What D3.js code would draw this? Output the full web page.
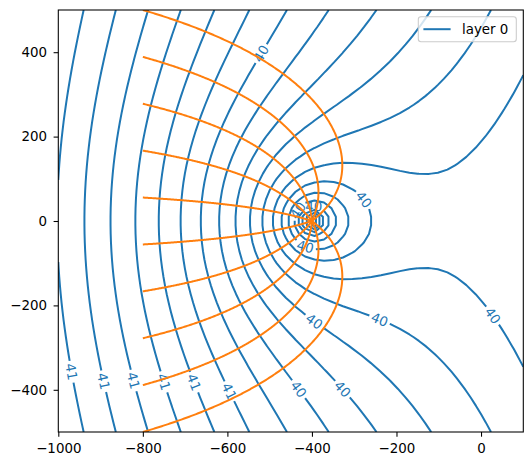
<!DOCTYPE html>
<html><head><meta charset="utf-8">
<script src="https://cdn.jsdelivr.net/npm/d3@7"></script>
<style>
body{margin:0;background:#fff;}
text{font-family:"DejaVu Sans",sans-serif;}
</style>
</head><body>
<svg id="chart" width="532" height="466"></svg>
<script>
// ---------------- data ----------------
const xTicks = [-1000, -800, -600, -400, -200, 0];
const yTicks = [-400, -200, 0, 200, 400];
const plotWindow = [-1000, 100, -500, 500];      // x1, x2, y1, y2
const gridCount = [50, 50];                        // contour grid points
const wellXY = [-400, 0];                          // extraction well
const stagnationDist = 313.7;                      // well -> stagnation point distance
const headPerUnit = 0.001;                         // head change per unit of discharge potential
const headOffset = 37.9892;                        // reference head
const headLevels = [39.1, 39.2, 39.3, 39.4, 39.5, 39.6, 39.7, 39.8, 39.9, 40.0,
                    40.1, 40.2, 40.3, 40.4, 40.5, 40.6, 40.7, 40.8, 40.9, 41.0];
const traceStartX = [-800, -800, -800, -800, -800, -800, -800, -800, -800, -800];
const traceStartY = [-500, -388.9, -277.8, -166.7, -55.6, 55.6, 166.7, 277.8, 388.9, 500];
const labelAnchorX = [-967.6, -886.4, -817.7, -749, -675.7, -592.8, -430.9, -325.3, -395, -238.7, 35, -521.3, -274, -416, -396.3, -435.6];
const labelAnchorY = [-357, -378.5, -376.8, -380.8, -380.8, -402.2, -398, -396.5, -238.7, -230.6, -218.8, 397.4, 54, -61, 37.9, 26];
const legendLabels = ["layer 0"];

// ---------------- layout ----------------
const C0 = "#1f77b4", C1 = "#ff7f0e";
const FS = 13.4;
const svg = d3.select("#chart");
const x = d3.scaleLinear().domain([plotWindow[0], plotWindow[1]]).range([58.3, 523.3]);
const y = d3.scaleLinear().domain([plotWindow[2], plotWindow[3]]).range([432, 10]);
const [px0, px1] = x.range(), [py0, py1] = [y.range()[1], y.range()[0]];

svg.append("rect").attr("width", 532).attr("height", 466).attr("fill", "#fff");
svg.append("defs").append("clipPath").attr("id", "clip")
  .append("rect").attr("x", px0).attr("y", py0).attr("width", px1 - px0).attr("height", py1 - py0);

// ---------------- head field on grid ----------------
function head(xx, yy) {
  const r = Math.hypot(xx - wellXY[0], yy - wellXY[1]);
  return headOffset + headPerUnit * (-xx + stagnationDist * Math.log(r));
}
const nx = gridCount[0], ny = gridCount[1];
const xs = d3.range(nx).map(i => plotWindow[0] + i * (plotWindow[1] - plotWindow[0]) / (nx - 1));
const ys = d3.range(ny).map(j => plotWindow[2] + j * (plotWindow[3] - plotWindow[2]) / (ny - 1));
const V = ys.map(yy => xs.map(xx => head(xx, yy)));

// marching squares -> polylines
function isolines(L) {
  const pts = new Map();
  const segs = [];
  function ep(key, xa, ya, va, xb, yb, vb) {
    if (!pts.has(key)) {
      const t = (L - va) / (vb - va);
      pts.set(key, [xa + t * (xb - xa), ya + t * (yb - ya)]);
    }
    return key;
  }
  for (let j = 0; j < ny - 1; j++) for (let i = 0; i < nx - 1; i++) {
    const va = V[j][i], vb = V[j][i + 1], vc = V[j + 1][i + 1], vd = V[j + 1][i];
    const A = va >= L, B = vb >= L, Cc = vc >= L, D = vd >= L;
    const e = [null, null, null, null];
    if (A !== B) e[0] = ep("h" + i + "_" + j, xs[i], ys[j], va, xs[i + 1], ys[j], vb);
    if (B !== Cc) e[1] = ep("v" + (i + 1) + "_" + j, xs[i + 1], ys[j], vb, xs[i + 1], ys[j + 1], vc);
    if (D !== Cc) e[2] = ep("h" + i + "_" + (j + 1), xs[i], ys[j + 1], vd, xs[i + 1], ys[j + 1], vc);
    if (A !== D) e[3] = ep("v" + i + "_" + j, xs[i], ys[j], va, xs[i], ys[j + 1], vd);
    const c = e.filter(k => k !== null);
    if (c.length === 2) segs.push([c[0], c[1]]);
    else if (c.length === 4) {
      const center = (va + vb + vc + vd) / 4 >= L;
      if (center === A) { segs.push([e[0], e[1]]); segs.push([e[2], e[3]]); }
      else { segs.push([e[0], e[3]]); segs.push([e[1], e[2]]); }
    }
  }
  const byKey = new Map();
  segs.forEach((s, k) => s.forEach(key => { if (!byKey.has(key)) byKey.set(key, []); byKey.get(key).push(k); }));
  const used = new Array(segs.length).fill(false);
  const lines = [];
  for (let k = 0; k < segs.length; k++) {
    if (used[k]) continue;
    used[k] = true;
    const chain = [segs[k][0], segs[k][1]];
    const grow = (forward) => {
      while (true) {
        const endKey = forward ? chain[chain.length - 1] : chain[0];
        const nb = (byKey.get(endKey) || []).find(m => !used[m]);
        if (nb === undefined) break;
        used[nb] = true;
        const other = segs[nb][0] === endKey ? segs[nb][1] : segs[nb][0];
        if (forward) chain.push(other); else chain.unshift(other);
        if (chain[0] === chain[chain.length - 1]) break;
      }
    };
    grow(true);
    if (chain[0] !== chain[chain.length - 1]) grow(false);
    lines.push({ closed: chain[0] === chain[chain.length - 1], pts: chain.map(key => pts.get(key)) });
  }
  return lines;
}

// pieces in screen coordinates
let pieces = [];
headLevels.forEach(L => {
  isolines(L).forEach(ln => {
    pieces.push({ level: L, closed: ln.closed, pts: ln.pts.map(p => [x(p[0]), y(p[1])]) });
  });
});

function cumLen(pts) {
  const c = [0];
  for (let k = 1; k < pts.length; k++) c.push(c[k - 1] + Math.hypot(pts[k][0] - pts[k - 1][0], pts[k][1] - pts[k - 1][1]));
  return c;
}
function pointAt(pts, cum, s) {
  s = Math.max(0, Math.min(cum[cum.length - 1], s));
  let k = 0;
  while (k < cum.length - 2 && cum[k + 1] < s) k++;
  const segL = cum[k + 1] - cum[k];
  const t = segL > 0 ? (s - cum[k]) / segL : 0;
  return [pts[k][0] + t * (pts[k + 1][0] - pts[k][0]), pts[k][1] + t * (pts[k + 1][1] - pts[k][1])];
}
function subPath(pts, cum, s1, s2) {
  const out = [pointAt(pts, cum, s1)];
  for (let k = 0; k < pts.length; k++) if (cum[k] > s1 && cum[k] < s2) out.push(pts[k]);
  out.push(pointAt(pts, cum, s2));
  return out;
}

// ---------------- contour labels (inline) ----------------
const gLab = svg.append("g");
labelAnchorX.forEach((ax, li) => {
  const P = [x(ax), y(labelAnchorY[li])];
  let best = null;
  pieces.forEach((pc, pi) => {
    const cum = cumLen(pc.pts);
    for (let k = 0; k < pc.pts.length - 1; k++) {
      const a = pc.pts[k], b = pc.pts[k + 1];
      const dx = b[0] - a[0], dy = b[1] - a[1];
      const l2 = dx * dx + dy * dy;
      let t = l2 > 0 ? ((P[0] - a[0]) * dx + (P[1] - a[1]) * dy) / l2 : 0;
      t = Math.max(0, Math.min(1, t));
      const q = [a[0] + t * dx, a[1] + t * dy];
      const d = Math.hypot(q[0] - P[0], q[1] - P[1]);
      if (!best || d < best.d) best = { d, pi, s: cum[k] + t * Math.sqrt(l2), q };
    }
  });
  if (!best) return;
  const pc = pieces[best.pi];
  let pts = pc.pts, cum = cumLen(pts), s0 = best.s;
  const Ltot = cum[cum.length - 1];
  let p1, p2;
  if (pc.closed) {
    const dbl = pts.concat(pts.slice(1));
    const cd = cumLen(dbl);
    p1 = pointAt(dbl, cd, s0 - 7 + Ltot);
    p2 = pointAt(dbl, cd, s0 + 7 + Ltot);
  } else {
    p1 = pointAt(pts, cum, s0 - 7);
    p2 = pointAt(pts, cum, s0 + 7);
  }
  let ang = Math.atan2(p2[1] - p1[1], p2[0] - p1[0]) * 180 / Math.PI;
  if (ang > 90) ang -= 180;
  if (ang <= -90) ang += 180;
  const txt = gLab.append("text")
    .attr("transform", `translate(${best.q[0]},${best.q[1]}) rotate(${ang})`)
    .attr("text-anchor", "middle").attr("dy", "0.36em")
    .attr("font-size", FS).attr("fill", C0)
    .text(pc.level.toFixed(0));
  const w = txt.node().getComputedTextLength() + 5;
  const newPieces = [];
  if (pc.closed) {
    const dbl = pts.concat(pts.slice(1));
    const cd = cumLen(dbl);
    newPieces.push({ level: pc.level, closed: false, pts: subPath(dbl, cd, s0 + w / 2, s0 - w / 2 + Ltot) });
  } else {
    if (s0 - w / 2 > 0) newPieces.push({ level: pc.level, closed: false, pts: subPath(pts, cum, 0, s0 - w / 2) });
    if (s0 + w / 2 < Ltot) newPieces.push({ level: pc.level, closed: false, pts: subPath(pts, cum, s0 + w / 2, Ltot) });
  }
  pieces.splice(best.pi, 1, ...newPieces);
});

const line = d3.line();
const gCont = svg.insert("g", "g").attr("clip-path", "url(#clip)");
gCont.selectAll("path").data(pieces).join("path")
  .attr("d", d => line(d.pts))
  .attr("fill", "none").attr("stroke", C0).attr("stroke-width", 2)
  .attr("stroke-linejoin", "round").attr("stroke-linecap", "butt");

// ---------------- trace lines (streamfunction of well in uniform flow) ----------------
function traceLine(x0, y0) {
  const th0 = Math.atan2(y0 - wellXY[1], x0 - wellXY[0]);
  const psi = -(y0 - wellXY[1]) + stagnationDist * th0;
  const th1 = psi / stagnationDist;
  const out = [];
  const N = 400;
  for (let k = 0; k <= N; k++) {
    const th = th0 + (th1 - th0) * k / N;
    const yy = stagnationDist * th - psi;
    const r = k === N ? 0 : yy / Math.sin(th);
    out.push([wellXY[0] + r * Math.cos(th), wellXY[1] + r * Math.sin(th)]);
  }
  return out;
}
const traces = traceStartX.map((sx, k) => traceLine(sx, traceStartY[k]));
svg.append("g").attr("clip-path", "url(#clip)")
  .selectAll("path").data(traces).join("path")
  .attr("d", d => line(d.map(p => [x(p[0]), y(p[1])])))
  .attr("fill", "none").attr("stroke", C1).attr("stroke-width", 2)
  .attr("stroke-linejoin", "round");

// ---------------- axes ----------------
const fmt = v => (v < 0 ? "\u2212" : "") + Math.abs(v);
const xAxis = svg.append("g").attr("transform", `translate(0,${py1})`)
  .call(d3.axisBottom(x).tickValues(xTicks).tickFormat(fmt).tickSize(4.7).tickSizeOuter(0).tickPadding(7));
const yAxis = svg.append("g").attr("transform", `translate(${px0},0)`)
  .call(d3.axisLeft(y).tickValues(yTicks).tickFormat(fmt).tickSize(4.7).tickSizeOuter(0).tickPadding(6.5));
[xAxis, yAxis].forEach(g => {
  g.select(".domain").remove();
  g.selectAll(".tick line").attr("stroke", "#000").attr("stroke-width", 1.07);
  g.selectAll(".tick text").attr("font-size", FS).attr("fill", "#000")
    .attr("font-family", "DejaVu Sans, sans-serif");
});
svg.append("rect").attr("x", px0).attr("y", py0).attr("width", px1 - px0).attr("height", py1 - py0)
  .attr("fill", "none").attr("stroke", "#000").attr("stroke-width", 1.07);

// ---------------- legend ----------------
const lg = svg.append("g");
lg.append("rect").attr("x", 418.3).attr("y", 16.7).attr("width", 98).attr("height", 25)
  .attr("rx", 2.7).attr("fill", "#fff").attr("fill-opacity", 0.8)
  .attr("stroke", "#cccccc").attr("stroke-width", 1.07);
legendLabels.forEach((lab, k) => {
  lg.append("line").attr("x1", 423.4).attr("x2", 450.6).attr("y1", 29.2 + k * 20).attr("y2", 29.2 + k * 20)
    .attr("stroke", C0).attr("stroke-width", 2);
  lg.append("text").attr("x", 462).attr("y", 33.8 + k * 20).attr("font-size", FS).attr("fill", "#000").text(lab);
});
</script>
</body></html>
